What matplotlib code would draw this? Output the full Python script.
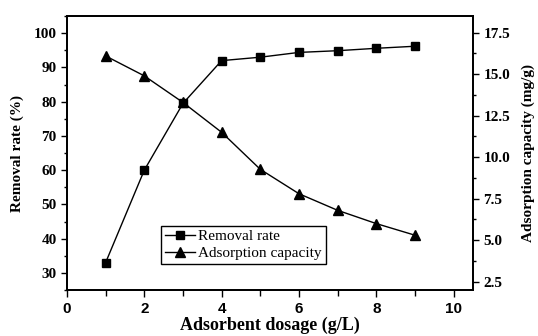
import matplotlib.pyplot as plt
from matplotlib.ticker import MultipleLocator

dosage = [1, 2, 3, 4, 5, 6, 7, 8, 9]
removal_rate = [33.0, 60.0, 79.5, 92.0, 93.0, 94.4, 94.9, 95.6, 96.2]
adsorption_capacity = [16.1, 14.9, 13.3, 11.5, 9.27, 7.8, 6.8, 6.0, 5.3]
cap_ticks = [2.5, 5.0, 7.5, 10.0, 12.5, 15.0, 17.5]

serif = 'Liberation Serif'
narrow = ['Liberation Sans Narrow', 'Liberation Sans']

fig = plt.figure(figsize=(5.38, 3.36), dpi=100)
ax = fig.add_axes([0.1245, 0.137, 0.7545, 0.815])
ax2 = ax.twinx()

l1, = ax.plot(dosage, removal_rate, color='black', lw=1.0, marker='s', ms=6)
l2, = ax2.plot(dosage, adsorption_capacity, color='black', lw=1.0, marker='^', ms=7)

ax.set_xlim(0, 10.5)
ax.set_ylim(25, 105)
ax2.set_ylim(2.0, 18.5)

ax.xaxis.set_major_locator(MultipleLocator(2))
ax.xaxis.set_minor_locator(MultipleLocator(1))
ax.set_yticks(range(30, 101, 10))
ax.yaxis.set_minor_locator(MultipleLocator(5))
ax2.set_yticks(cap_ticks)
ax2.set_yticklabels(['%.1f' % t for t in cap_ticks])
ax2.yaxis.set_minor_locator(MultipleLocator(1.25))

for a in (ax, ax2):
    for s in a.spines.values():
        s.set_linewidth(1.3)
    a.tick_params(which='major', length=4, width=1.0, direction='out')
    a.tick_params(which='minor', length=2.5, width=1.0, direction='out')
ax.tick_params(axis='x', which='major', length=5)
ax.tick_params(axis='x', which='minor', length=4)

for lab in ax.get_xticklabels():
    lab.set_fontfamily(narrow)
    lab.set_fontweight('bold')
    lab.set_fontsize(11)
for lab in ax.get_yticklabels() + ax2.get_yticklabels():
    lab.set_fontfamily(serif)
    lab.set_fontweight('bold')
    lab.set_fontsize(11)

ax.set_xlabel('Adsorbent dosage (g/L)', fontfamily=serif, fontweight='bold',
              fontsize=13, labelpad=1)
ax.set_ylabel('Removal rate (%)', fontfamily=serif, fontweight='bold',
              fontsize=11, labelpad=7)
ax2.set_ylabel('Adsorption capacity (mg/g)', fontfamily=serif, fontweight='bold',
               fontsize=11, labelpad=8)

leg = ax.legend([l1, l2], ['Removal rate', 'Adsorption capacity'],
                loc='lower left', bbox_to_anchor=(0.2315, 0.095),
                prop={'family': serif, 'size': 11}, fancybox=False,
                edgecolor='black', framealpha=1, handlelength=2.0,
                borderpad=0.25, labelspacing=0.2, handletextpad=0.2,
                borderaxespad=0)
leg.get_frame().set_linewidth(1.0)

fig.savefig('out.png', dpi=100)
